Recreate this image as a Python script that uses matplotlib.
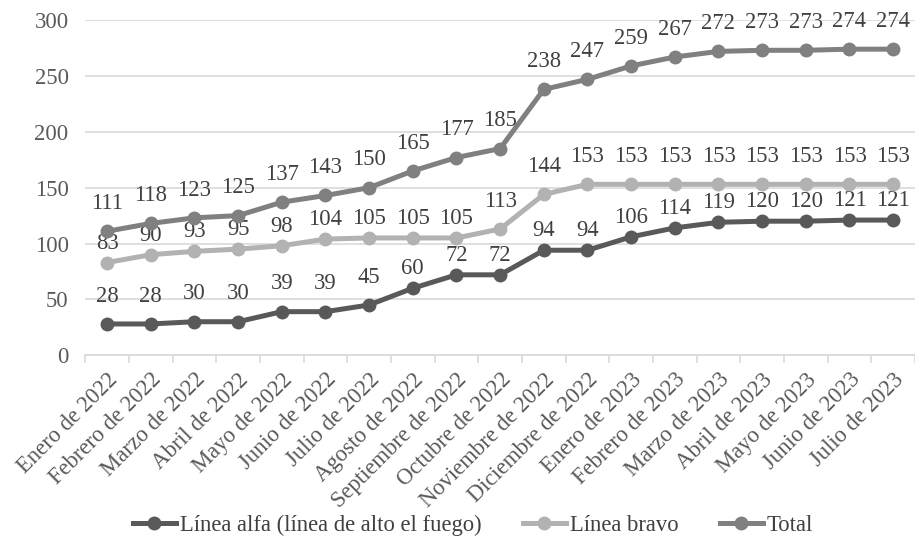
import matplotlib
matplotlib.use('Agg')
import matplotlib.pyplot as plt
import numpy as np

meses = ["Enero de 2022", "Febrero de 2022", "Marzo de 2022", "Abril de 2022",
         "Mayo de 2022", "Junio de 2022", "Julio de 2022", "Agosto de 2022",
         "Septiembre de 2022", "Octubre de 2022", "Noviembre de 2022",
         "Diciembre de 2022", "Enero de 2023", "Febrero de 2023", "Marzo de 2023",
         "Abril de 2023", "Mayo de 2023", "Junio de 2023", "Julio de 2023"]
alfa = [28, 28, 30, 30, 39, 39, 45, 60, 72, 72, 94, 94, 106, 114, 119, 120, 120, 121, 121]
bravo = [83, 90, 93, 95, 98, 104, 105, 105, 105, 113, 144, 153, 153, 153, 153, 153, 153, 153, 153]
total = [111, 118, 123, 125, 137, 143, 150, 165, 177, 185, 238, 247, 259, 267, 272, 273, 273, 274, 274]

plt.rcParams['font.family'] = 'serif'
plt.rcParams['font.serif'] = ['Liberation Serif', 'DejaVu Serif']
fs = 16.3
txt = '#404040'

fig = plt.figure(figsize=(9.15, 5.44), dpi=100)
ax = fig.add_axes([0.0932, 0.347, 0.9068, 0.616])
x = np.arange(len(meses))

# label offsets (points above the marker) - lower where series crowd each other
off_alfa = [20] * 7 + [14] * 12
off_bravo = [14] * 9 + [20] * 10
off_total = [20] * 19

series = [(alfa, '#595959', 'Línea alfa (línea de alto el fuego)', off_alfa),
          (bravo, '#b2b2b2', 'Línea bravo', off_bravo),
          (total, '#808080', 'Total', off_total)]
for vals, col, name, offs in series:
    ax.plot(x, vals, color=col, lw=3.6, marker='o', ms=9, label=name, zorder=3)
    for xi, v, o in zip(x, vals, offs):
        ax.annotate(str(v), (xi, v), xytext=(0, o), textcoords='offset points',
                    ha='center', va='center', fontsize=fs, color=txt)

ax.set_xlim(-0.5, len(meses) - 0.5)
ax.set_ylim(0, 300)
ax.set_yticks(range(0, 301, 50))
ax.grid(axis='y', color='#d9d9d9', lw=1.2)
ax.set_axisbelow(True)
for s in ['top', 'right', 'left']:
    ax.spines[s].set_visible(False)
ax.spines['bottom'].set_color('#d9d9d9')
ax.spines['bottom'].set_linewidth(1.2)

ax.set_xticks(x)
ax.set_xticklabels(meses, rotation=45, ha='right', rotation_mode='anchor')
ax.set_xticks(np.arange(-0.5, len(meses), 1), minor=True)
ax.tick_params(axis='x', which='major', length=0, pad=10, labelsize=fs, labelcolor='#595959')
ax.tick_params(axis='x', which='minor', length=6, color='#d9d9d9', width=1.2)
ax.tick_params(axis='y', length=0, pad=12, labelsize=fs, labelcolor='#595959')

fig.legend(loc='center', bbox_to_anchor=(0.517, 0.035), ncol=3, frameon=False,
           fontsize=fs, labelcolor='#404040', handlelength=1.9, columnspacing=1.8,
           handletextpad=0.2)

plt.savefig('out.png', dpi=100)
